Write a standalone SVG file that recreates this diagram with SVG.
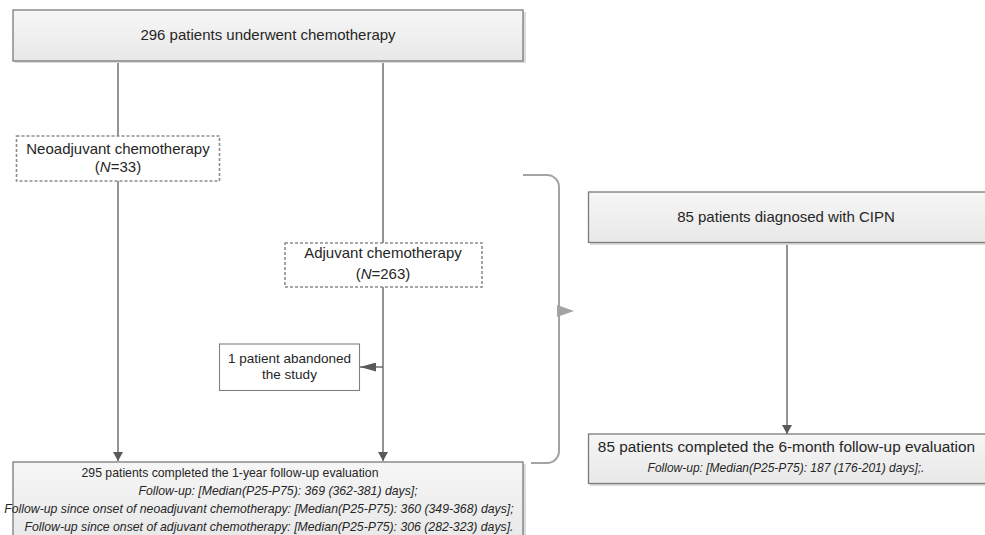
<svg xmlns="http://www.w3.org/2000/svg" width="985" height="535" viewBox="0 0 985 535">
  <defs>
    <linearGradient id="boxfill" x1="0" y1="0" x2="0" y2="1">
      <stop offset="0" stop-color="#f6f6f6"/>
      <stop offset="1" stop-color="#e8e8e8"/>
    </linearGradient>
    <marker id="ah" viewBox="0 0 10 10" refX="10" refY="5" markerWidth="9" markerHeight="10" orient="auto" markerUnits="userSpaceOnUse" preserveAspectRatio="none">
      <path d="M0,0 L10,5 L0,10 z" fill="#595959"/>
    </marker>
    <marker id="ahl" viewBox="0 0 10 10" refX="10" refY="5" markerWidth="16" markerHeight="9" orient="auto" markerUnits="userSpaceOnUse" preserveAspectRatio="none">
      <path d="M0,0 L10,5 L0,10 z" fill="#595959"/>
    </marker>
  </defs>
  <style>
    text { font-family: "Liberation Sans", Arial, sans-serif; fill: #262626; }
    .t15 { font-size: 15px; }
    .t13 { font-size: 13.5px; }
    .t12 { font-size: 12.25px; }
    .it { font-style: italic; }
    .solid { fill: url(#boxfill); stroke: #7a7a7a; stroke-width: 1.3; }
    .shadow { fill: #dcdcdc; }
    .dashed { fill: #ffffff; stroke: #8c8c8c; stroke-width: 1.6; stroke-dasharray: 3 2; }
    .plain { fill: #ffffff; stroke: #808080; stroke-width: 1.1; }
    .conn { stroke: #595959; stroke-width: 1.3; fill: none; }
    .bracket { stroke: #a3a3a3; stroke-width: 2; fill: none; }
  </style>

  <g id="connectors">
    <line class="conn" x1="118" y1="61" x2="118" y2="136"/>
    <line class="conn" x1="118" y1="181" x2="118" y2="461" marker-end="url(#ah)"/>
    <line class="conn" x1="383" y1="61" x2="383" y2="243"/>
    <line class="conn" x1="383" y1="287" x2="383" y2="461" marker-end="url(#ah)"/>
    <line class="conn" x1="383" y1="367" x2="360" y2="367" marker-end="url(#ahl)"/>
    <line class="conn" x1="787" y1="242" x2="787" y2="434" marker-end="url(#ah)"/>
    <path class="bracket" d="M523,175 H547 A12,12 0 0 1 559,187 V451 A12,12 0 0 1 547,463 H531"/>
    <polygon points="557,305 574,311 557,317" fill="#a3a3a3"/>
  </g>

  <g id="node-top">
    <rect class="shadow" x="15" y="12" width="511" height="51"/>
    <rect class="solid" x="13" y="10" width="510" height="51"/>
    <text class="t15" x="268" y="40" text-anchor="middle">296 patients underwent chemotherapy</text>
  </g>

  <g id="node-neoadjuvant">
    <rect class="dashed" x="16.5" y="136" width="203" height="45"/>
    <text class="t15" x="118" y="154" text-anchor="middle">Neoadjuvant chemotherapy</text>
    <text class="t15" x="118" y="172" text-anchor="middle">(<tspan class="it">N</tspan>=33)</text>
  </g>

  <g id="node-adjuvant">
    <rect class="dashed" x="285" y="243" width="197" height="44"/>
    <text class="t15" x="383" y="258" text-anchor="middle">Adjuvant chemotherapy</text>
    <text class="t15" x="383" y="279" text-anchor="middle">(<tspan class="it">N</tspan>=263)</text>
  </g>

  <g id="node-abandoned">
    <rect class="plain" x="219.5" y="344" width="140" height="46.5"/>
    <text class="t13" x="289.5" y="362.5" text-anchor="middle">1 patient abandoned</text>
    <text class="t13" x="289.5" y="379" text-anchor="middle">the study</text>
  </g>

  <g id="node-followup-1year">
    <rect class="shadow" x="15" y="464" width="511" height="80"/>
    <rect class="solid" x="13" y="462" width="510" height="80"/>
    <text class="t12" x="230" y="477" text-anchor="middle">295 patients completed the 1-year follow-up evaluation</text>
    <text class="t12 it" x="278" y="495" text-anchor="middle">Follow-up: [Median(P25-P75): 369 (362-381) days];</text>
    <text class="t12 it" x="259" y="513" text-anchor="middle">Follow-up since onset of neoadjuvant chemotherapy: [Median(P25-P75): 360 (349-368) days];</text>
    <text class="t12 it" x="269" y="530.5" text-anchor="middle">Follow-up since onset of adjuvant chemotherapy: [Median(P25-P75): 306 (282-323) days].</text>
  </g>

  <g id="node-cipn">
    <rect class="shadow" x="590" y="194" width="400" height="51"/>
    <rect class="solid" x="588.5" y="192" width="400" height="50.5"/>
    <text class="t15" x="786" y="222" text-anchor="middle">85 patients diagnosed with CIPN</text>
  </g>

  <g id="node-followup-6month">
    <rect class="shadow" x="590" y="436" width="400" height="50"/>
    <rect class="solid" x="588.5" y="434" width="400" height="49.5"/>
    <text class="t15" x="786.5" y="451.5" text-anchor="middle" style="font-size:15.4px">85 patients completed the 6-month follow-up evaluation</text>
    <text class="t12 it" x="786" y="471.5" text-anchor="middle" style="font-size:12px">Follow-up: [Median(P25-P75): 187 (176-201) days];.</text>
  </g>
</svg>
